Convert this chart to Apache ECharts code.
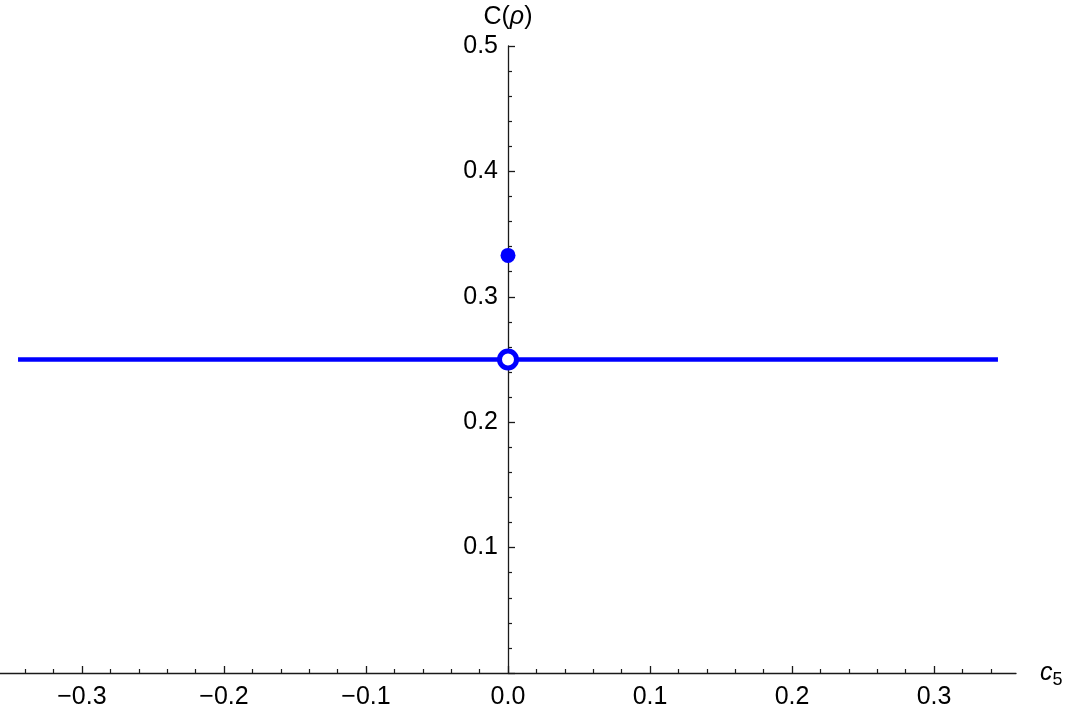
<!DOCTYPE html>
<html>
<head>
<meta charset="utf-8">
<script src="https://cdn.jsdelivr.net/npm/echarts@6/dist/echarts.min.js"></script>
<style>
html, body { margin: 0; padding: 0; background: #fff; }
#chart { width: 1065px; height: 707px; }
</style>
</head>
<body>
<div id="chart"></div>
<script>
// data
var lineX = [-0.345, 0.345];
var lineY = [0.25, 0.25];
var dotFilled = [[0, 0.333]];
var dotOpen = [[0, 0.25]];
var xMajorTicks = [-0.3, -0.2, -0.1, 0, 0.1, 0.2, 0.3];
var xMinorTicks = [-0.34, -0.32, -0.28, -0.26, -0.24, -0.22, -0.18, -0.16, -0.14, -0.12,
    -0.08, -0.06, -0.04, -0.02, 0.02, 0.04, 0.06, 0.08, 0.12, 0.14, 0.16, 0.18,
    0.22, 0.24, 0.26, 0.28, 0.32, 0.34];

var font = 'Liberation Sans, Arial, sans-serif';
var axisColor = '#1a1a1a';
var blue = '#0000ff';
var gridLeft = 0, gridWidth = 1016;
// y axis sits at x = 0 of the data, moved there with a negative offset
var xMin = -0.3577, xMax = 0.3577;
var yAxisOffset = -gridWidth * (0 - xMin) / (xMax - xMin);

var chart = echarts.init(document.getElementById('chart'));
var option = {
    animation: false,
    backgroundColor: '#fff',
    grid: {
        left: gridLeft,
        right: 1065 - gridWidth,
        top: 46,
        bottom: 34,
        containLabel: false,
        outerBoundsMode: 'none'
    },
    xAxis: [{
        type: 'value',
        min: xMin,
        max: xMax,
        position: 'bottom',
        name: '{i|c}{s|5}',
        nameLocation: 'end',
        nameGap: 24,
        nameTextStyle: {
            rich: {
                i: { fontFamily: font, fontSize: 25, fontStyle: 'italic', color: '#000' },
                s: { fontFamily: font, fontSize: 18, color: '#000', padding: [14, 0, 0, 0] }
            }
        },
        axisLine: { onZero: true, lineStyle: { color: axisColor, width: 1.3 } },
        axisTick: { show: true, inside: true, length: 7, customValues: xMajorTicks, lineStyle: { color: axisColor, width: 1.3 } },
        axisLabel: {
            customValues: xMajorTicks,
            margin: 12,
            fontFamily: font,
            fontSize: 25,
            color: '#000',
            formatter: function (v) {
                return v.toFixed(1).replace('-', '\u2212');
            }
        },
        splitLine: { show: false }
    }, {
        type: 'value',
        min: xMin,
        max: xMax,
        position: 'bottom',
        axisLine: { show: false, onZero: true, onZeroAxisIndex: 0 },
        axisTick: { show: true, inside: true, length: 4, customValues: xMinorTicks, lineStyle: { color: axisColor, width: 1.2 } },
        axisLabel: { show: false },
        splitLine: { show: false }
    }],
    yAxis: {
        type: 'value',
        min: 0,
        max: 0.5,
        interval: 0.1,
        position: 'left',
        offset: yAxisOffset,
        name: '{n|C(}{i|\u03c1}{n|)}',
        nameLocation: 'end',
        nameGap: 16,
        nameTextStyle: {
            rich: {
                n: { fontFamily: font, fontSize: 25, color: '#000' },
                i: { fontFamily: font, fontSize: 25, fontStyle: 'italic', color: '#000' }
            }
        },
        axisLine: { onZero: false, lineStyle: { color: axisColor, width: 1.3 } },
        axisTick: { show: true, inside: true, length: 7, lineStyle: { color: axisColor, width: 1.3 } },
        minorTick: { show: true, splitNumber: 5, length: 4, lineStyle: { color: axisColor, width: 1.2 } },
        axisLabel: {
            margin: 10,
            fontFamily: font,
            fontSize: 25,
            color: '#000',
            formatter: function (v) {
                return v === 0 ? '' : v.toFixed(1);
            }
        },
        splitLine: { show: false },
        minorSplitLine: { show: false }
    },
    series: [{
        type: 'line',
        xAxisIndex: 0,
        data: lineX.map(function (x, i) { return [x, lineY[i]]; }),
        symbol: 'none',
        lineStyle: { color: blue, width: 4.5 },
        z: 2
    }, {
        type: 'scatter',
        xAxisIndex: 0,
        data: dotFilled,
        symbol: 'circle',
        symbolSize: 15,
        itemStyle: { color: blue, opacity: 1 },
        z: 3
    }, {
        type: 'scatter',
        xAxisIndex: 0,
        data: dotOpen,
        symbol: 'circle',
        symbolSize: 17,
        itemStyle: { color: '#fff', borderColor: blue, borderWidth: 5, opacity: 1 },
        z: 4
    }]
};
chart.setOption(option);
</script>
</body>
</html>
